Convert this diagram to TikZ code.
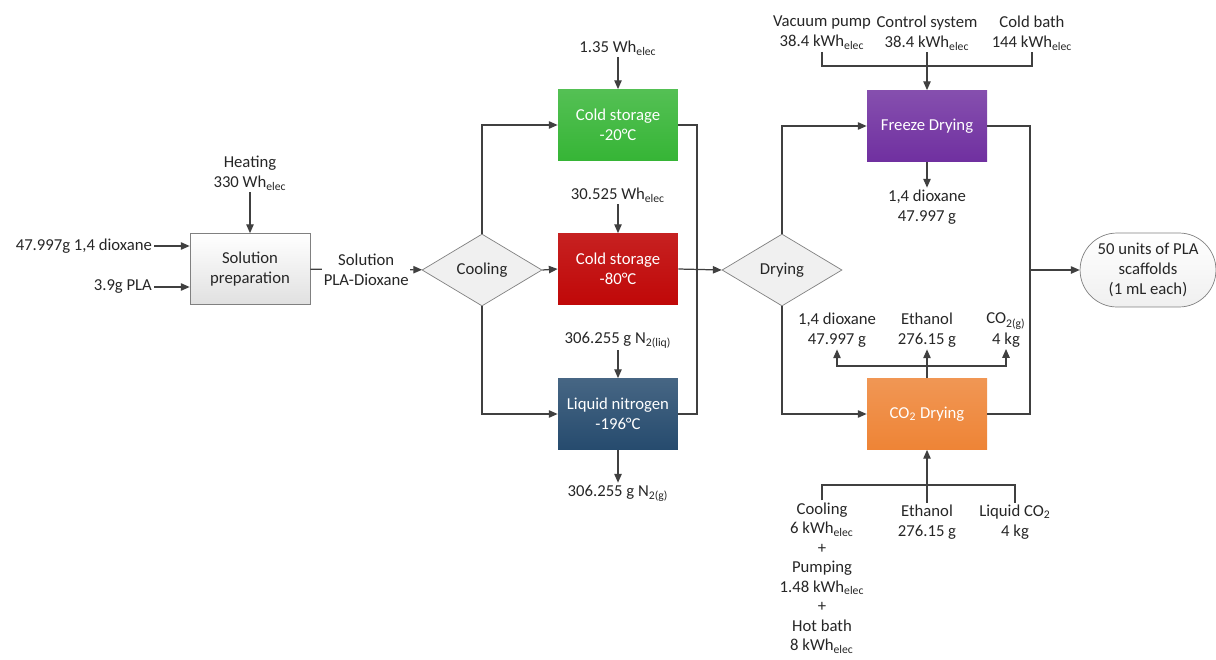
\documentclass[tikz,border=0pt]{standalone}
\usepackage{fontspec}
\setmainfont{Carlito}
\usetikzlibrary{arrows.meta,shapes.geometric,shapes.misc}
\definecolor{linegray}{HTML}{404040}
\definecolor{boxgreen}{HTML}{36B536}
\definecolor{boxred}{HTML}{C00808}
\definecolor{boxblue}{HTML}{264B6E}
\definecolor{boxpurple}{HTML}{7030A0}
\definecolor{boxorange}{HTML}{EE8436}
\newcommand{\elec}{\textsubscript{elec}}

\begin{document}
\begin{tikzpicture}[x=0.02cm,y=-0.02cm,
  font=\fontsize{9.5}{11.4}\selectfont,
  line/.style={draw=linegray, line width=0.7pt},
  arr/.style={line, -{Triangle[length=5pt,width=4.2pt]}},
  proc/.style={minimum width=2.4cm, minimum height=1.42cm, align=center, text=white},
  lbl/.style={align=center, inner sep=1pt, text=black!85},
  decision/.style={diamond, draw=gray, fill=black!6, minimum width=2.4cm,
    minimum height=1.44cm, inner sep=0pt, text=black!85}]
\useasboundingbox (0,0) rectangle (1216,659);

% main process
\node[proc, draw=gray, top color=white, bottom color=black!12, text=black!85] (sol) at (250,269) {Solution\\preparation};
\node[decision] (cool) at (482,270) {Cooling};
\node[proc, top color=boxgreen!85!white, bottom color=boxgreen] (cs20) at (618,125) {Cold storage\\-20°C};
\node[proc, top color=boxred!90!white, bottom color=boxred] (cs80) at (618,269) {Cold storage\\-80°C};
\node[proc, top color=boxblue!85!white, bottom color=boxblue] (ln) at (618,414) {Liquid nitrogen\\-196°C};
\node[decision] (dry) at (782,270) {Drying};
\node[proc, top color=boxpurple!85!white, bottom color=boxpurple] (fd) at (927,126) {Freeze Drying};
\node[proc, top color=boxorange!85!white, bottom color=boxorange] (co2) at (927,414) {CO\textsubscript{2} Drying};
\node[rounded rectangle, draw=gray, top color=white, bottom color=black!6, minimum width=2.64cm,
  minimum height=1.48cm, align=center, text=black!85] (end) at (1148,270) {50 units of PLA\\scaffolds\\(1 mL each)};

% inputs and outputs
\node[lbl] (heat) at (250,173) {Heating\\330 Wh\elec};
\node[lbl, anchor=east] (diox) at (154,246) {47.997g 1,4 dioxane};
\node[lbl, anchor=east] (pla) at (154,287) {3.9g PLA};
\node[lbl] (e20) at (618,48) {1.35 Wh\elec};
\node[lbl] (e80) at (618,195) {30.525 Wh\elec};
\node[lbl] (n2l) at (618,340) {306.255 g N\textsubscript{2(liq)}};
\node[lbl] (n2g) at (618,493) {306.255 g N\textsubscript{2(g)}};
\node[lbl] (vp) at (822,33) {Vacuum pump\\38.4 kWh\elec};
\node[lbl] (csys) at (927,33) {Control system\\38.4 kWh\elec};
\node[lbl] (cb) at (1032,33) {Cold bath\\144 kWh\elec};
\node[lbl] (dxfd) at (927,207) {1,4 dioxane\\47.997 g};
\node[lbl] (dxco) at (837,330) {1,4 dioxane\\47.997 g};
\node[lbl] (eth1) at (927,330) {Ethanol\\276.15 g};
\node[lbl] (co2g) at (1006,330) {CO\textsubscript{2(g)}\\4 kg};
\node[lbl, font=\fontsize{9.5}{11.1}\selectfont] (cool2) at (822,578) {Cooling\\6 kWh\elec\\+\\Pumping\\1.48 kWh\elec\\+\\Hot bath\\8 kWh\elec};
\node[lbl] (eth2) at (927,522) {Ethanol\\276.15 g};
\node[lbl] (lco2) at (1015,522) {Liquid CO\textsubscript{2}\\4 kg};

\coordinate (jA) at (697,269);
\coordinate (jB) at (1030,270);
\coordinate (fdin) at (927,66);
\coordinate (co2out) at (927,366);
\coordinate (co2in) at (927,485);

% connectors
\draw[arr] (heat) -- (sol);
\draw[arr] (diox.east) -- (diox.east -| sol.west);
\draw[arr] (pla.east) -- (pla.east -| sol.west);
\draw[arr] (sol) -- node[lbl, fill=white] {Solution\\PLA-Dioxane} (cool);
\draw[arr] (cool.north) |- (cs20.west);
\draw[arr] (cool.east) -- (cs80.west);
\draw[arr] (cool.south) |- (ln.west);
\draw[arr] (e20) -- (cs20);
\draw[arr] (e80) -- (cs80);
\draw[arr] (n2l) -- (ln);
\draw[arr] (ln) -- (n2g);
\draw[line] (cs20.east) -| (jA) |- (ln.east);
\draw[arr] (cs80.east) -- (dry.west);
\draw[arr] (dry.north) |- (fd.west);
\draw[arr] (dry.south) |- (co2.west);
\draw[line] (vp.south) |- (fdin) -| (cb.south);
\draw[arr] (csys) -- (fd);
\draw[arr] (fd) -- (dxfd);
\draw[line] (co2.north) -- (co2out);
\draw[arr] (co2out) -| (dxco.south);
\draw[arr] (co2out) -| (co2g.south);
\draw[arr] (co2.north) -- (eth1.south);
\draw[line] (cool2.north) |- (co2in) -| (lco2.north);
\draw[arr] (eth2) -- (co2);
\draw[line] (fd.east) -| (jB) |- (co2.east);
\draw[arr] (jB) -- (end.west);
\end{tikzpicture}
\end{document}
